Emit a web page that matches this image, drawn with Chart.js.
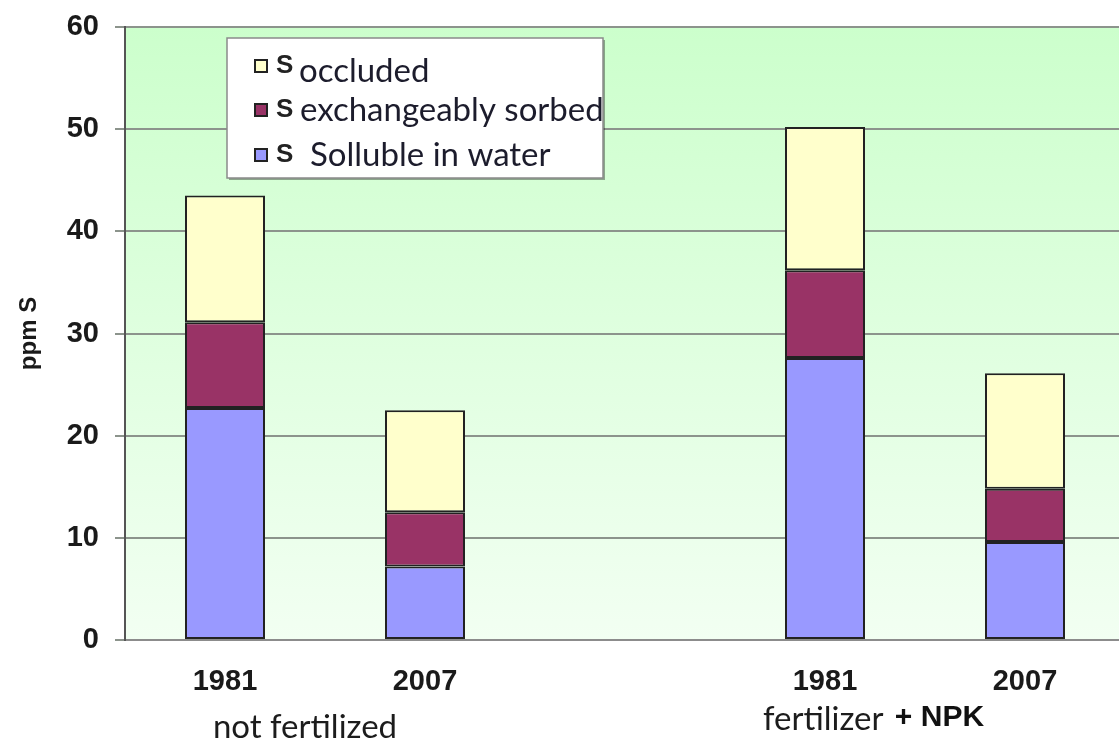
<!DOCTYPE html>
<html>
<head>
<meta charset="utf-8">
<script src="https://cdn.jsdelivr.net/npm/chart.js@4"></script>
<style>
  html, body { margin: 0; padding: 0; background: #fff; overflow: hidden; }
  #wrap { width: 1130px; height: 742px; }
</style>
</head>
<body>
<div id="wrap"><canvas id="sulfurChart"></canvas></div>
<script>
const categories = ['1981', '2007', '', '1981', '2007'];
const solubleInWater = [22.7, 7.2, null, 27.6, 9.6];
const exchangeablySorbed = [8.4, 5.3, null, 8.6, 5.2];
const occluded = [12.4, 10.0, null, 14.0, 11.3];
const yTicks = [0, 10, 20, 30, 40, 50, 60];
const groupLabels = ['not fertilized', 'fertilizer'];

const backgroundPlugin = {
  id: 'plotBackground',
  beforeDraw(chart) {
    const { ctx, chartArea: a } = chart;
    const g = ctx.createLinearGradient(0, a.top, 0, a.bottom);
    g.addColorStop(0, '#ccffcc');
    g.addColorStop(1, '#f2fff2');
    ctx.save();
    ctx.fillStyle = g;
    ctx.fillRect(a.left, a.top, a.right - a.left, a.bottom - a.top);
    ctx.restore();
  }
};

const extrasPlugin = {
  id: 'extras',
  afterDraw(chart) {
    const ctx = chart.ctx;
    ctx.save();

    // legend box
    ctx.fillStyle = 'rgba(0,0,0,0.35)';
    ctx.fillRect(229, 40, 376, 140);
    ctx.fillStyle = '#fff';
    ctx.fillRect(227, 38, 376, 140);
    ctx.strokeStyle = '#8a8a8a';
    ctx.lineWidth = 1.5;
    ctx.strokeRect(227, 38, 376, 140);

    const items = [
      { color: '#ffffcc', text: 'occluded', y: 66, dx: 299, dy: 5 },
      { color: '#993366', text: 'exchangeably sorbed', y: 110, dx: 300, dy: 0 },
      { color: '#9999ff', text: 'Solluble in water', y: 155, dx: 310, dy: 0 }
    ];
    items.forEach(it => {
      ctx.fillStyle = it.color;
      ctx.fillRect(255, it.y - 6, 12, 12);
      ctx.strokeStyle = '#222';
      ctx.lineWidth = 2;
      ctx.strokeRect(255, it.y - 6, 12, 12);
      ctx.fillStyle = '#222';
      ctx.font = 'bold 26px "Liberation Sans", Arial, sans-serif';
      ctx.textBaseline = 'middle';
      ctx.textAlign = 'left';
      ctx.fillText('S', 276, it.y);
      ctx.font = '33px Lato, "Open Sans", sans-serif';
      ctx.fillStyle = '#1c1c2c';
      ctx.fillText(it.text, it.dx, it.y + it.dy);
    });

    // group labels under the years
    const x = chart.scales.x;
    ctx.textBaseline = 'middle';
    ctx.fillStyle = '#1c1c1c';
    ctx.font = '33px Lato, "Open Sans", sans-serif';
    ctx.textAlign = 'center';
    ctx.fillText(groupLabels[0], x.getPixelForValue(0.4), 727);
    ctx.textAlign = 'left';
    const left = x.getPixelForValue(2.69);
    ctx.fillText(groupLabels[1], left, 719);
    const w = ctx.measureText(groupLabels[1]).width;
    ctx.font = 'bold 30px "Liberation Sans", Arial, sans-serif';
    ctx.fillStyle = '#111';
    ctx.fillText(' + NPK', left + w + 3, 718);
    ctx.restore();
  }
};

const barStyle = { borderColor: '#222', borderWidth: 2, borderSkipped: false, barPercentage: 0.4, categoryPercentage: 1 };

new Chart(document.getElementById('sulfurChart'), {
  type: 'bar',
  data: {
    labels: categories,
    datasets: [
      Object.assign({ label: 'S Solluble in water', data: solubleInWater, backgroundColor: '#9999ff' }, barStyle),
      Object.assign({ label: 'S exchangeably sorbed', data: exchangeablySorbed, backgroundColor: '#993366' }, barStyle),
      Object.assign({ label: 'S occluded', data: occluded, backgroundColor: '#ffffcc' }, barStyle)
    ]
  },
  options: {
    responsive: true,
    maintainAspectRatio: false,
    animation: false,
    layout: { padding: { top: 27, right: 5, left: 0, bottom: 0 } },
    plugins: { legend: { display: false }, tooltip: { enabled: false } },
    scales: {
      x: {
        stacked: true,
        afterFit(scale) { scale.height = 102; },
        grid: { display: false },
        border: { color: '#8c8c8c', width: 2 },
        ticks: { color: '#1a1a1a', padding: 17, font: { family: '"Liberation Sans", Arial', size: 29, weight: 'bold' } }
      },
      y: {
        stacked: true,
        min: 0,
        max: 60,
        afterFit(scale) {
          scale.width = 125;
          scale.paddingTop = 0;
          scale.paddingBottom = 0;
        },
        afterBuildTicks(scale) { scale.ticks = yTicks.map(v => ({ value: v })); },
        grid: { color: '#8c948c', lineWidth: 2, tickLength: 10 },
        border: { color: '#555', width: 2 },
        ticks: { color: '#1a1a1a', padding: 16, font: { family: '"Liberation Sans", Arial', size: 29, weight: 'bold' } },
        title: { display: true, text: 'ppm S', color: '#1a1a1a', padding: { top: 15 }, font: { family: '"Liberation Sans", Arial', size: 24, weight: 'bold' } }
      }
    }
  },
  plugins: [backgroundPlugin, extrasPlugin]
});
</script>
</body>
</html>
